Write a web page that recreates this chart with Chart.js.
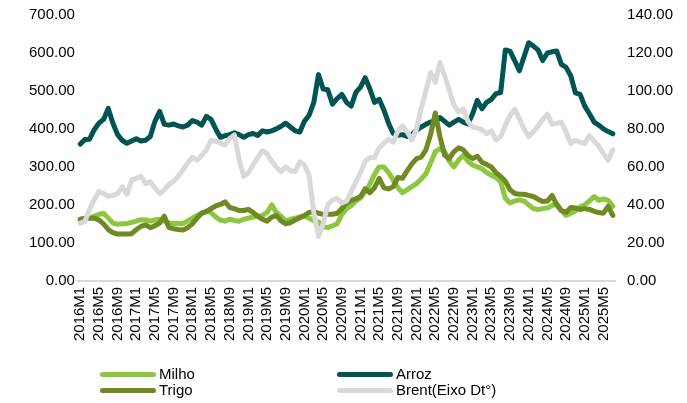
<!DOCTYPE html>
<html>
<head>
<meta charset="utf-8">
<script src="https://cdn.jsdelivr.net/npm/chart.js@4.4.1/dist/chart.umd.min.js"></script>
<style>
    body{margin:0;background:#fff;}
    #caja{position:relative;width:687px;height:403px;overflow:hidden;font-family:Arial,"Liberation Sans",sans-serif;}
    #grafico{position:absolute;left:0;top:-6px;}
    .ley{position:absolute;font-size:15px;color:#000;line-height:16px;}
    .ley span{display:inline-block;width:56px;height:5px;border-radius:3px;vertical-align:middle;margin-right:3px;position:relative;top:-1px;}
</style>
</head>
<body>
<div id="caja">
    <canvas id="grafico" width="687" height="403"></canvas>
    <div class="ley" style="left:100px;top:366px;"><span style="background:#8dc63f"></span>Milho</div>
    <div class="ley" style="left:337px;top:366px;"><span style="background:#005453"></span>Arroz</div>
    <div class="ley" style="left:100px;top:382px;"><span style="background:#6f8a22"></span>Trigo</div>
    <div class="ley" style="left:337px;top:382px;"><span style="background:#d9d9d9"></span>Brent(Eixo Dt°)</div>
</div>
<script>
// meses 2016M1 .. 2025M7
const meses=[];
for(let a=2016;a<=2025;a++){
    for(let m=1;m<=12;m++){
        if(a<2025 || m<=7) meses.push(a+'M'+m);
    }
}

// Milho (eixo esq.)
const milho=[
    158,163,166,170,175,178,165,152,149,150,151,154,   // 2016
    157,161,160,157,160,162,157,152,151,151,151,158,   // 2017
    165,172,178,184,180,168,160,157,162,159,157,162,   // 2018
    165,168,170,172,180,200,180,170,158,162,165,168,   // 2019
    170,165,158,155,142,140,145,150,175,190,198,210,   // 2020
    218,235,255,280,300,300,285,265,245,232,240,248,   // 2021
    256,268,282,310,340,348,340,315,300,318,330,315,   // 2022
    305,300,295,285,278,272,260,218,205,210,213,210,   // 2023
    200,190,188,190,192,198,203,185,172,178,184,195,   // 2024
    200,210,222,212,216,212,196                        // 2025
];
// Arroz (eixo esq.)
const arroz=[
    360,372,373,398,415,425,454,415,385,370,362,368,
    374,368,370,380,420,446,412,410,413,408,405,410,
    422,418,410,433,425,400,378,382,385,390,385,378,
    385,388,383,395,392,395,400,407,415,405,395,392,
    420,436,470,543,505,503,465,480,491,470,460,496,
    510,535,505,470,478,450,415,388,383,385,380,385,
    397,405,412,418,420,430,420,410,418,425,418,413,
    440,475,453,470,478,493,496,608,605,580,553,590,
    627,618,608,580,600,603,605,570,562,540,495,491,
    460,440,418,410,400,393,387
];
// Trigo (eixo esq.)
const trigo=[
    162,165,165,165,160,150,135,127,123,123,123,124,
    135,143,147,140,145,152,170,140,137,135,134,140,
    150,165,178,182,190,197,201,208,193,190,185,185,
    188,180,170,162,157,168,172,158,150,153,160,166,
    172,180,182,178,175,175,175,178,190,205,212,216,
    222,242,232,245,270,245,242,248,272,270,290,308,
    322,326,345,385,442,380,331,322,340,350,345,330,
    322,328,312,306,300,285,275,262,240,230,228,228,
    225,222,215,209,210,225,200,185,180,193,192,188,
    190,188,183,180,178,196,172
];
// Brent (eixo dir.)
const brent=[
    30.3,31.3,37.6,42.8,47,46,44.5,45,46,49.5,45.5,53,
    54,55,51.2,52.2,49,46,48,50.7,52.5,55,58.5,62,
    65,63.5,66,69,74,73.5,72.5,71.6,75,76.8,64,55,
    57,61,65,68.5,67,63,60,57.5,60,58,57.5,62.7,
    61,55.5,36,23.5,30,40,42.5,43.5,41,42,47,52,
    57,63,65,65,70,72.5,74.5,73,79,81.5,78.5,74.2,
    80,91,100,109.7,104.5,115,108,100.5,92.5,89,90.5,84,
    81,80.5,79.5,77.5,79,74.2,76,82,87,90.4,85.5,80,
    76,78.5,81.5,85,87.8,82.5,83,83.5,78.4,72.3,74,73,
    72.3,76.5,73.5,71,67,63.5,69
];

const ticksEsq=[0,100,200,300,400,500,600,700];
const ticksDir=[0,20,40,60,80,100,120,140];

const fonte={family:'Arial, "Liberation Sans", sans-serif',size:15};

const serie=(nome,dados,cor,eixo,ordem)=>({
    label:nome,
    data:dados,
    borderColor:cor,
    backgroundColor:cor,
    borderWidth:5,
    pointRadius:0,
    tension:0,
    yAxisID:eixo,
    order:ordem,
    borderJoinStyle:'round',
    borderCapStyle:'round'
});

const ctx=document.getElementById('grafico');
const myChart=new Chart(ctx,{
    type:'line',
    data:{
        labels:meses,
        datasets:[
            serie('Milho',milho,'#8dc63f','y',3),
            serie('Arroz',arroz,'#005453','y',2),
            serie('Trigo',trigo,'#6f8a22','y',1),
            serie('Brent(Eixo Dt°)',brent,'#d9d9d9','y1',0)
        ]
    },
    options:{
        responsive:false,
        animation:false,
        layout:{padding:{left:26,right:2,top:-7,bottom:50}},
        plugins:{legend:{display:false},tooltip:{enabled:false}},
        scales:{
            x:{
                offset:true,
                grid:{display:false,drawTicks:false},
                border:{display:true,color:'#d9d9d9',width:2},
                ticks:{
                    autoSkip:false,
                    minRotation:90,
                    maxRotation:90,
                    padding:6,
                    color:'#000',
                    font:fonte,
                    callback:function(v,i){
                        return i%4===0 ? this.getLabelForValue(v) : '';
                    }
                }
            },
            y:{
                position:'left',
                min:0,max:700,
                afterBuildTicks:(eixo)=>{eixo.ticks=ticksEsq.map(v=>({value:v}));},
                grid:{display:false,drawTicks:false},
                border:{display:false},
                ticks:{padding:3,color:'#000',font:fonte,callback:v=>v.toFixed(2)}
            },
            y1:{
                position:'right',
                min:0,max:140,
                afterBuildTicks:(eixo)=>{eixo.ticks=ticksDir.map(v=>({value:v}));},
                grid:{display:false,drawTicks:false},
                border:{display:false},
                ticks:{padding:12,color:'#000',font:fonte,callback:v=>v.toFixed(2)}
            }
        }
    }
});
</script>
</body>
</html>
